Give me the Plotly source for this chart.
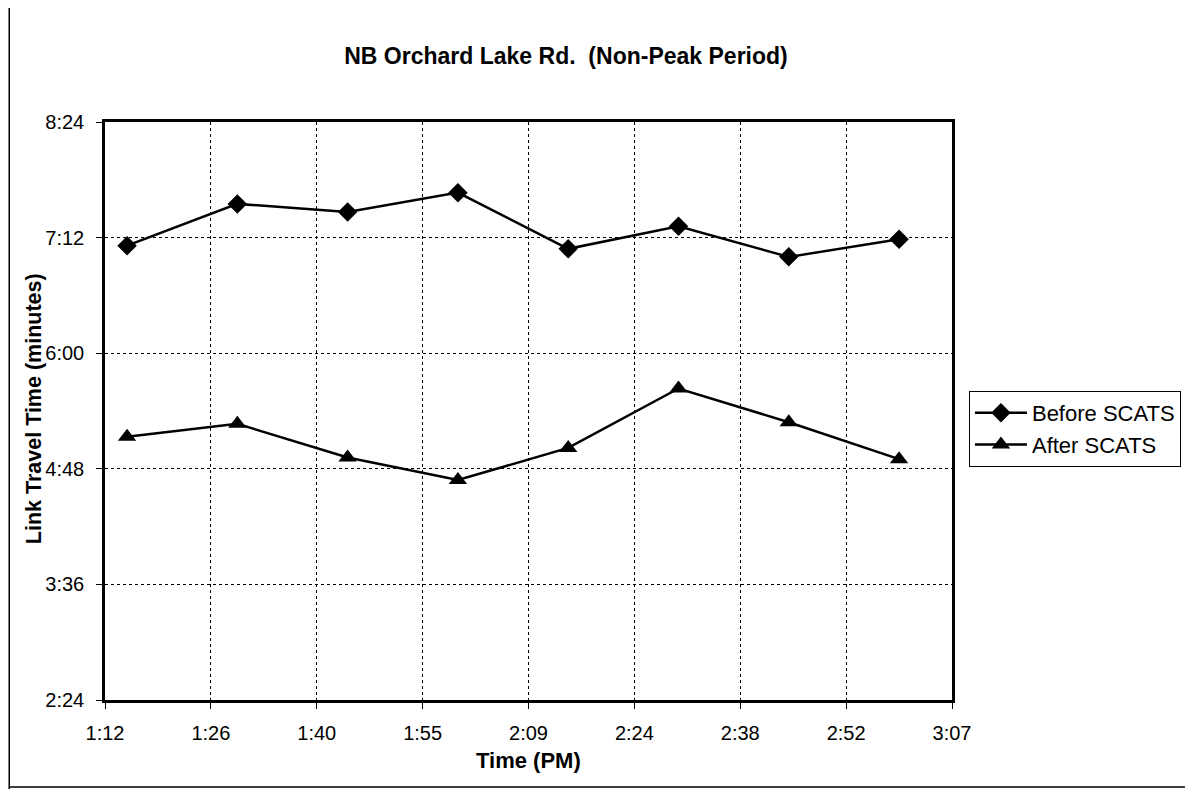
import plotly.graph_objects as go

# ---- data ----
times_pm = ["1:15", "1:30", "1:45", "2:00", "2:15", "2:30", "2:45", "3:00"]
before_scats = ["7:07", "7:33", "7:28", "7:40", "7:05", "7:19", "7:00", "7:11"]
after_scats = ["5:08", "5:16", "4:55", "4:41", "5:01", "5:38", "5:17", "4:54"]

x_tick_labels = ["1:12", "1:26", "1:40", "1:55", "2:09", "2:24", "2:38", "2:52", "3:07"]
y_tick_labels = ["2:24", "3:36", "4:48", "6:00", "7:12", "8:24"]


def hm_to_min(s):
    h, m = s.split(":")
    return int(h) * 60 + int(m)


def ms_to_sec(s):
    m, sec = s.split(":")
    return int(m) * 60 + int(sec)


x_vals = [hm_to_min(t) for t in times_pm]
y_before = [ms_to_sec(v) for v in before_scats]
y_after = [ms_to_sec(v) for v in after_scats]

# Excel-style axis: 1:12 .. 3:07:12 in steps of 14.4 min ; 2:24 .. 8:24 in 72 s steps
x_min, x_step = 72.0, 14.4
y_min, y_step = 144.0, 72.0
x_ticks = [x_min + i * x_step for i in range(len(x_tick_labels))]
y_ticks = [y_min + i * y_step for i in range(len(y_tick_labels))]

FONT = "Liberation Sans, Arial, sans-serif"
OFF = 8                      # page body margin of the html page
SW, SH = 1193, 789           # screen size
W, H = SW - OFF, SH - OFF    # figure size
# plot area in screen pixels
L, R, T, B = 105, 954, 122, 700

fig = go.Figure()
fig.add_trace(go.Scatter(
    x=x_vals, y=y_before, name="Before SCATS", mode="lines+markers",
    line=dict(color="black", width=2.5),
    marker=dict(symbol="diamond", size=15, color="black"),
))
fig.add_trace(go.Scatter(
    x=x_vals, y=y_after, name="After SCATS", mode="lines+markers",
    line=dict(color="black", width=2.5),
    marker=dict(symbol="triangle-up", size=16, color="black"),
))


def px_x(p):
    return (p - L) / (R - L)


def px_y(p):
    return (B - p) / (B - T)


fig.update_layout(
    width=W, height=H,
    margin=dict(l=L - OFF, r=SW - R, t=T - OFF, b=SH - B, pad=0),
    paper_bgcolor="white", plot_bgcolor="white",
    font=dict(family=FONT, color="black", size=20),
    title=dict(
        text="<b>NB Orchard Lake Rd. &nbsp;(Non-Peak Period)</b>",
        x=(566 - OFF) / W, xref="container", xanchor="center",
        y=1 - (56 - OFF) / H, yref="container", yanchor="middle",
        font=dict(size=23, family=FONT, color="black"),
    ),
    showlegend=True,
    legend=dict(
        x=px_x(971), y=px_y(391), xanchor="left", yanchor="top",
        bordercolor="black", borderwidth=1, bgcolor="white",
        font=dict(size=22, family=FONT, color="black"),
        itemwidth=52,
        tracegroupgap=0,
    ),
    xaxis=dict(
        range=[x_min, x_min + 8 * x_step],
        tickvals=x_ticks, ticktext=x_tick_labels,
        showline=True, linecolor="black", linewidth=2.5, mirror=True,
        ticks="outside", ticklen=6, tickcolor="black", tickwidth=1,
        ticklabelstandoff=7,
        showgrid=True, gridcolor="black", griddash="dot", gridwidth=1,
        zeroline=False,
        tickfont=dict(size=20, family=FONT, color="black"),
    ),
    yaxis=dict(
        range=[y_min, y_min + 5 * y_step],
        tickvals=y_ticks, ticktext=y_tick_labels,
        showline=True, linecolor="black", linewidth=2.5, mirror=True,
        ticks="outside", ticklen=6, tickcolor="black", tickwidth=1,
        ticklabelstandoff=8,
        showgrid=True, gridcolor="black", griddash="dot", gridwidth=1,
        zeroline=False,
        tickfont=dict(size=20, family=FONT, color="black"),
    ),
    annotations=[
        dict(text="<b>Link Travel Time (minutes)</b>", textangle=-90,
             x=px_x(34), y=px_y(409), xref="paper", yref="paper",
             xanchor="center", yanchor="middle", showarrow=False,
             font=dict(size=21.5, family=FONT, color="black")),
        dict(text="<b>Time (PM)</b>",
             x=px_x(530), y=px_y(760), xref="paper", yref="paper",
             xanchor="center", yanchor="middle", showarrow=False,
             font=dict(size=22, family=FONT, color="black")),
    ],
    shapes=[
        dict(type="line", xref="paper", yref="paper",
             x0=px_x(OFF + 1), x1=px_x(OFF + 1), y0=px_y(SH), y1=px_y(OFF),
             line=dict(color="black", width=1.5), layer="below"),
        dict(type="line", xref="paper", yref="paper",
             x0=px_x(OFF + 1), x1=px_x(SW), y0=px_y(SH - 2), y1=px_y(SH - 2),
             line=dict(color="black", width=1.5), layer="below"),
    ],
)

fig.write_html("out.html")
